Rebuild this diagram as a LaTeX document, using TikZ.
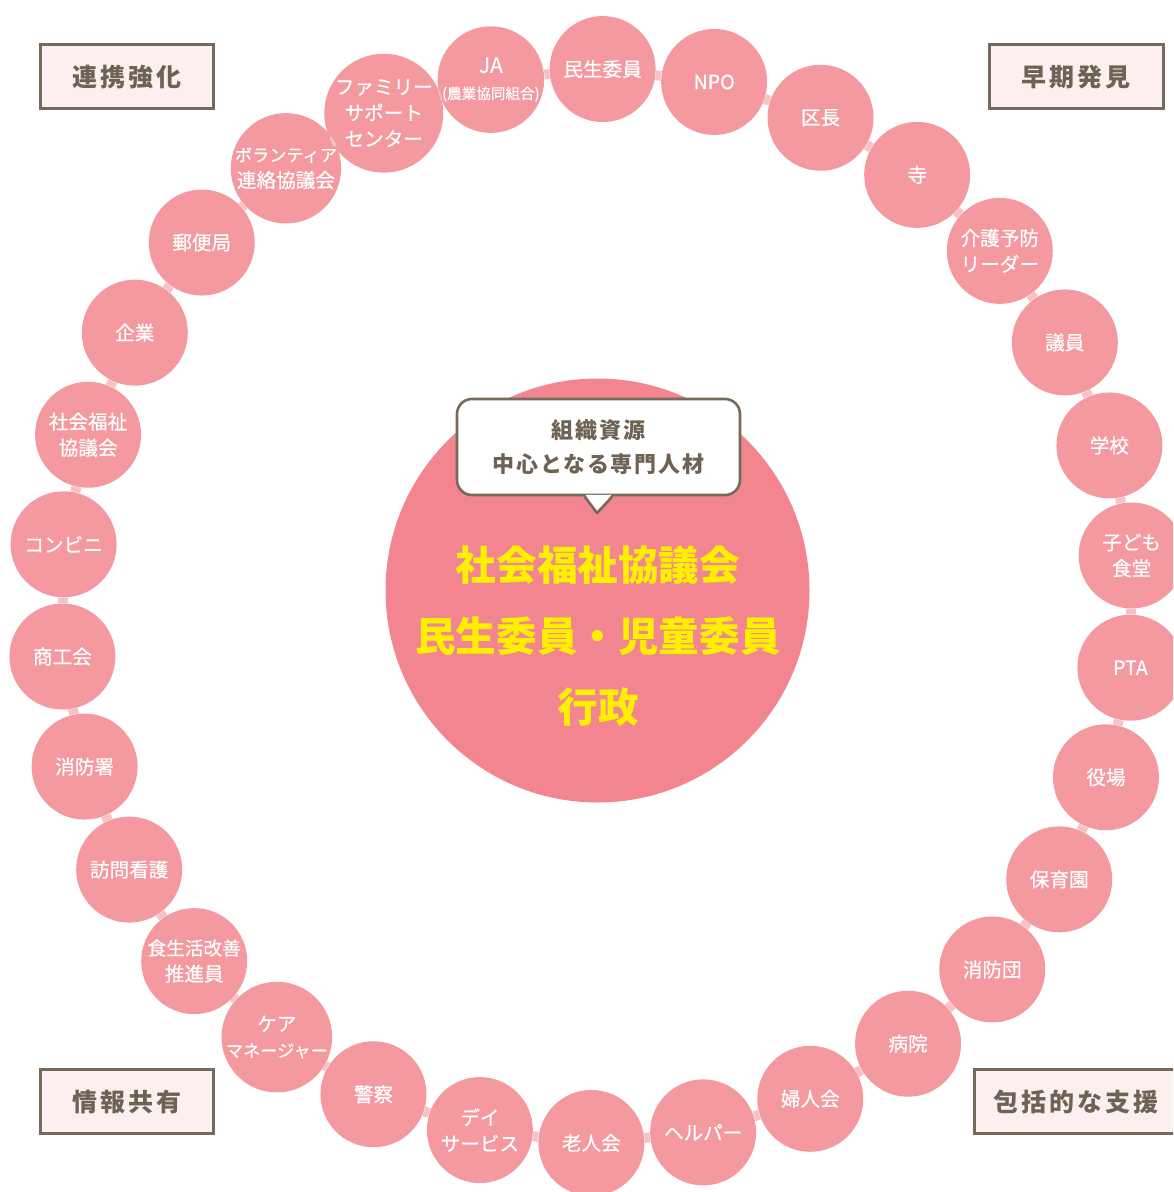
\documentclass[tikz,border=0pt]{standalone}
\usepackage{fontspec}
\newfontfamily\jp{Noto Sans CJK JP}
\newfontfamily\jpm{Noto Sans CJK JP}[FakeBold=0.5]
\newfontfamily\jpbox{Noto Sans CJK JP}[LetterSpace=12]
\newfontfamily\jpbub{Noto Sans CJK JP}[LetterSpace=8]
\usetikzlibrary{calc}
\definecolor{circfill}{HTML}{F4999F}
\definecolor{bigfill}{HTML}{F2858F}
\definecolor{ringcol}{HTML}{F7C2C6}
\definecolor{boxfill}{HTML}{FDEEF0}
\definecolor{boxdraw}{HTML}{766A5C}
\definecolor{textbrown}{HTML}{6E6254}
\definecolor{ctryellow}{HTML}{FFF000}
\tikzset{
  member/.style={circle, fill=circfill, minimum size=53pt, inner sep=0pt, align=center,
    text=white, font=\jpm\fontsize{9.8}{13}\selectfont},
  ring/.style={draw=ringcol, line width=5pt},
  corner/.style={rectangle, draw=boxdraw, line width=1.5pt, fill=boxfill, minimum height=32pt,
    text=textbrown, font=\jpbox\bfseries\fontsize{12.5}{14}\selectfont},
  bubble/.style={rectangle, rounded corners=7.5pt, draw=boxdraw, line width=1.3pt, fill=white,
    minimum width=141.5pt, minimum height=48pt, align=center, text=textbrown,
    font=\jpbub\bfseries\fontsize{11}{17}\selectfont},
  core/.style={circle, fill=bigfill, minimum size=212pt, inner sep=0pt}
}
\begin{document}
\begin{tikzpicture}[x=0.5pt,y=-0.5pt]
\useasboundingbox (0,0) rectangle (1173,1192);
\clip (0,0) rectangle (1173,1192);
\coordinate (C) at (597,606);
% central circle
\node[core] (center) at (597.5,590.5) {};
\node[align=center, text=ctryellow, font=\jp\bfseries\fontsize{20.3}{35.5}\selectfont] (coretext) at (598,636)
  {社会福祉協議会\\民生委員・児童委員\\行政};
% bubble
\node[bubble] (bub) at (598.5,447) {組織資源\\中心となる専門人材};
\coordinate (tip) at (597,513);
\fill[white] ([xshift=-6.5pt,yshift=0.7pt]bub.south) -- ([xshift=6.5pt,yshift=0.7pt]bub.south) -- (tip) -- cycle;
\draw[draw=boxdraw, line width=1.3pt, line join=round] ([xshift=-7pt]bub.south) -- (tip) -- ([xshift=7pt]bub.south);
% ring members
\foreach \k/\txt in {0/{民生委員},1/{NPO},2/{区長},3/{寺},4/{介護予防\\リーダー},5/{議員},6/{学校},
  7/{子ども\\食堂},8/{PTA},9/{役場},10/{保育園},11/{消防団},12/{病院},13/{婦人会},14/{ヘルパー},
  15/{老人会},16/{デイ\\サービス},17/{警察},18/{ケア\\{\fontsize{8.6}{13}\selectfont マネージャー}},
  19/{{\fontsize{9.3}{13}\selectfont 食生活改善}\\推進員},20/{訪問看護},21/{消防署},22/{商工会},23/{コンビニ},24/{社会福祉\\協議会},
  25/{企業},26/{郵便局},27/{{\fontsize{8.6}{13}\selectfont ボランティア}\\連絡協議会},
  28/{ファミリー\\サポート\\センター},
  29/{{\fontsize{10.5}{11.5}\selectfont JA}\\{\fontsize{7.3}{11.5}\selectfont (農業協同組合)}}}
  \node[member] (c\k) at ($(C)+(12*\k-89.4:537)$) {\txt};
\foreach \k [evaluate=\k as \n using {int(mod(\k+1,30))}] in {0,...,29}
  \draw[ring] (c\k) -- (c\n);
% corner labels
\node[corner, minimum width=86.5pt] (lt) at (126.5,77) {連携強化};
\node[corner, minimum width=87pt] (rt) at (1076,77) {早期発見};
\node[corner, minimum width=86.5pt] (lb) at (126.5,1101.5) {情報共有};
\node[corner, minimum width=102pt] (rb) at (1076,1101.5) {包括的な支援};
\end{tikzpicture}
\end{document}
